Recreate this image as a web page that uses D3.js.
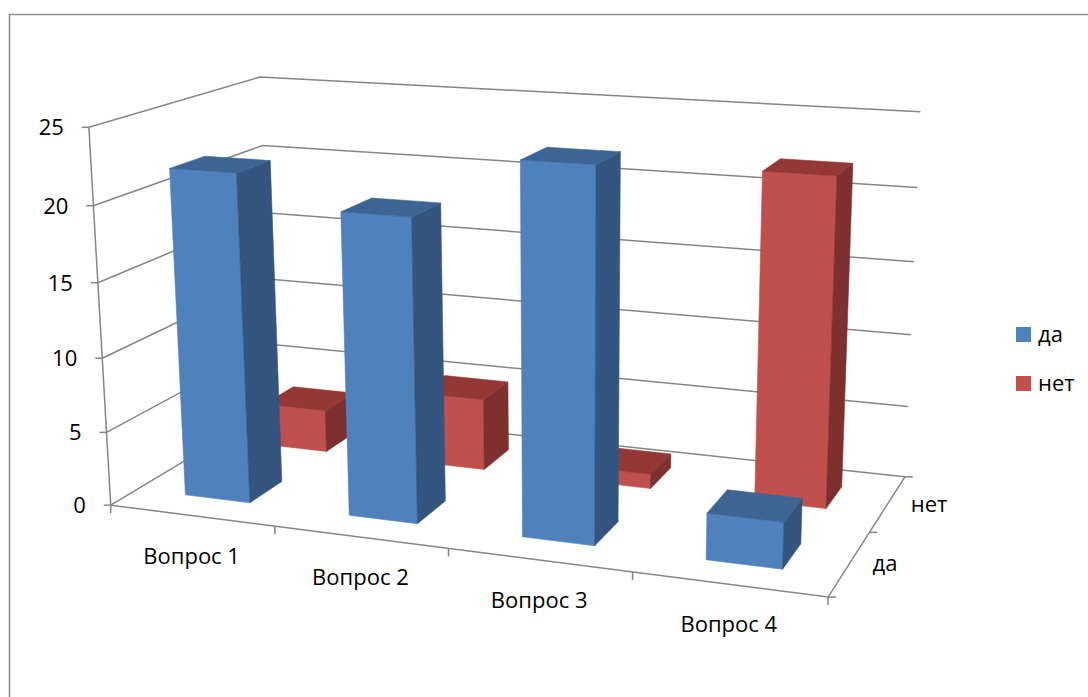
<!DOCTYPE html>
<html>
<head>
<meta charset="utf-8">
<script src="https://cdn.jsdelivr.net/npm/d3@7"></script>
<style>
  html, body { margin: 0; padding: 0; background: #fff; }
  svg { display: block; }
  text { font-family: "Open Sans", "Noto Sans", sans-serif; fill: #000; }
</style>
</head>
<body>
<svg id="chart" width="1088" height="697"></svg>
<script>
// ---- data ----
const categories = ["Вопрос 1", "Вопрос 2", "Вопрос 3", "Вопрос 4"];
const seriesNames = ["да", "нет"];
const daValues = [22, 20, 24, 3];
const netValues = [3, 5, 1, 22];
const yTicks = [0, 5, 10, 15, 20, 25];
const yMax = 25;

// ---- layout: perspective frame calibration [category pos, value, depth pos, screenX, screenY] ----
const frameCalib = [
  [0, 0, 0, 110, 505],
  [0, 25, 0, 90, 128],
  [0, 0, 2, 275, 410],
  [0, 25, 2, 258, 76],
  [4, 0, 2, 903, 476],
  [4, 25, 2, 921, 113],
  [4, 0, 0, 828, 597],
  [1, 0, 0, 273, 526],
  [2, 0, 0, 448, 549],
  [3, 0, 0, 632, 573],
  [4, 0, 1, 872, 531],
  [0, 10, 0, 102, 357],
  [4, 10, 2, 911, 335],
  [0, 20, 2, 262, 145],
  [0, 20, 0, 95, 206]
];

const colors = {
  "да":  { front: "#4F81BD", side: "#34557F", top: "#3C6594" },
  "нет": { front: "#C0504D", side: "#7E302E", top: "#943836" }
};
const gridColor = "#868686";
const fontSize = 22;

// ---- scales ----
const nCat = categories.length;
const xScale = d3.scaleBand().domain(categories).range([0, nCat]).paddingInner(0.6).paddingOuter(0.3);
const zScale = d3.scaleBand().domain(seriesNames).range([0, seriesNames.length]).paddingInner(0.6).paddingOuter(0.3);
const yScale = d3.scaleLinear().domain([0, yMax]).range([0, 5]);
const depthMax = seriesNames.length;

// ---- solve camera (DLT, least squares) ----
const CX = 500, CY = 350, S = 500;
function solveCamera(pts) {
  const rows = [], rhs = [];
  for (const [c, val, d, u0, v0] of pts) {
    const X = c, Y = yScale(val), Z = d;
    const u = (u0 - CX) / S, v = (v0 - CY) / S;
    rows.push([X, Y, Z, 1, 0, 0, 0, 0, -u * X, -u * Y, -u * Z]); rhs.push(u);
    rows.push([0, 0, 0, 0, X, Y, Z, 1, -v * X, -v * Y, -v * Z]); rhs.push(v);
  }
  const n = 11;
  const M = [];
  for (let i = 0; i < n; i++) {
    M.push(new Array(n + 1).fill(0));
    for (let j = 0; j < n; j++) {
      let s = 0;
      for (let k = 0; k < rows.length; k++) s += rows[k][i] * rows[k][j];
      M[i][j] = s;
    }
    let s = 0;
    for (let k = 0; k < rows.length; k++) s += rows[k][i] * rhs[k];
    M[i][n] = s;
  }
  for (let col = 0; col < n; col++) {
    let piv = col;
    for (let r = col + 1; r < n; r++) if (Math.abs(M[r][col]) > Math.abs(M[piv][col])) piv = r;
    [M[col], M[piv]] = [M[piv], M[col]];
    for (let r = 0; r < n; r++) {
      if (r === col) continue;
      const f = M[r][col] / M[col][col];
      for (let c2 = col; c2 <= n; c2++) M[r][c2] -= f * M[col][c2];
    }
  }
  return M.map((row, i) => row[n] / row[i]);
}
const P = solveCamera(frameCalib);
function proj(X, Y, Z) {
  const w = P[8] * X + P[9] * Y + P[10] * Z + 1;
  const u = (P[0] * X + P[1] * Y + P[2] * Z + P[3]) / w;
  const v = (P[4] * X + P[5] * Y + P[6] * Z + P[7]) / w;
  return [u * S + CX, v * S + CY];
}
// value-space helper
const pv = (c, val, d) => proj(c, yScale(val), d);

const svg = d3.select("#chart");
const line = d3.line();

// outer frame
svg.append("rect").attr("x", 9.5).attr("y", 14.5).attr("width", 1100).attr("height", 700)
  .attr("fill", "none").attr("stroke", "#8c8c8c").attr("stroke-width", 1.5);

const grid = svg.append("g").attr("fill", "none").attr("stroke", gridColor).attr("stroke-width", 1.5);

// left wall + back wall gridlines
yTicks.forEach(t => {
  grid.append("path").attr("d", line([pv(0, t, 0), pv(0, t, depthMax), pv(nCat, t, depthMax)]));
});
// left wall front edge (value axis)
grid.append("path").attr("d", line([pv(0, 0, 0), pv(0, yMax, 0)]));
// floor front edge & right edge
grid.append("path").attr("d", line([pv(0, 0, 0), pv(nCat, 0, 0), pv(nCat, 0, depthMax)]));

// value axis ticks & labels
yTicks.forEach(t => {
  const [x, y] = pv(0, t, 0);
  grid.append("path").attr("d", line([[x - 7, y], [x, y]]));
  svg.append("text").attr("x", x - 25).attr("y", y).attr("dy", "0.36em")
    .attr("text-anchor", "end").attr("font-size", fontSize).text(t);
});
// category ticks
d3.range(nCat + 1).forEach(i => {
  const [x, y] = pv(i, 0, 0);
  grid.append("path").attr("d", line([[x, y], [x, y + 8]]));
});
// series ticks
d3.range(depthMax + 1).forEach(j => {
  const [x, y] = pv(nCat, 0, j);
  grid.append("path").attr("d", line([[x, y], [x + 8, y]]));
});
// category labels
categories.forEach(c => {
  const mid = xScale(c) + xScale.bandwidth() / 2;
  const [x, y] = pv(mid, 0, 0);
  svg.append("text").attr("x", x).attr("y", y + 48).attr("text-anchor", "middle")
    .attr("font-size", fontSize).text(c);
});
// series labels
seriesNames.forEach(s => {
  const mid = zScale(s) + zScale.bandwidth() / 2;
  const [x, y] = pv(nCat, 0, mid);
  svg.append("text").attr("x", x + 23).attr("y", y + 8).attr("font-size", fontSize).text(s);
});

// bars (back row first)
const valuesBySeries = { "да": daValues, "нет": netValues };
const barsG = svg.append("g");
seriesNames.slice().reverse().forEach(s => {
  const vals = valuesBySeries[s];
  categories.forEach((c, i) => {
    const x0 = xScale(c), x1 = x0 + xScale.bandwidth();
    const z0 = zScale(s), z1 = z0 + zScale.bandwidth();
    const h = yScale(vals[i]);
    const faces = [
      { pts: [proj(x0, 0, z0), proj(x1, 0, z0), proj(x1, h, z0), proj(x0, h, z0)], col: colors[s].front },
      { pts: [proj(x1, 0, z0), proj(x1, 0, z1), proj(x1, h, z1), proj(x1, h, z0)], col: colors[s].side },
      { pts: [proj(x0, h, z0), proj(x1, h, z0), proj(x1, h, z1), proj(x0, h, z1)], col: colors[s].top }
    ];
    const g = barsG.append("g");
    faces.forEach(f => {
      g.append("path").attr("d", line(f.pts) + "Z").attr("fill", f.col)
        .attr("stroke", f.col).attr("stroke-width", 0.6).attr("stroke-linejoin", "round");
    });
  });
});

// legend
const legend = svg.append("g");
seriesNames.forEach((s, i) => {
  const y = 327 + i * 49;
  legend.append("rect").attr("x", 1016).attr("y", y).attr("width", 15).attr("height", 15)
    .attr("fill", colors[s].front);
  legend.append("text").attr("x", 1038).attr("y", y + 15).attr("font-size", fontSize).text(s);
});
</script>
</body>
</html>
